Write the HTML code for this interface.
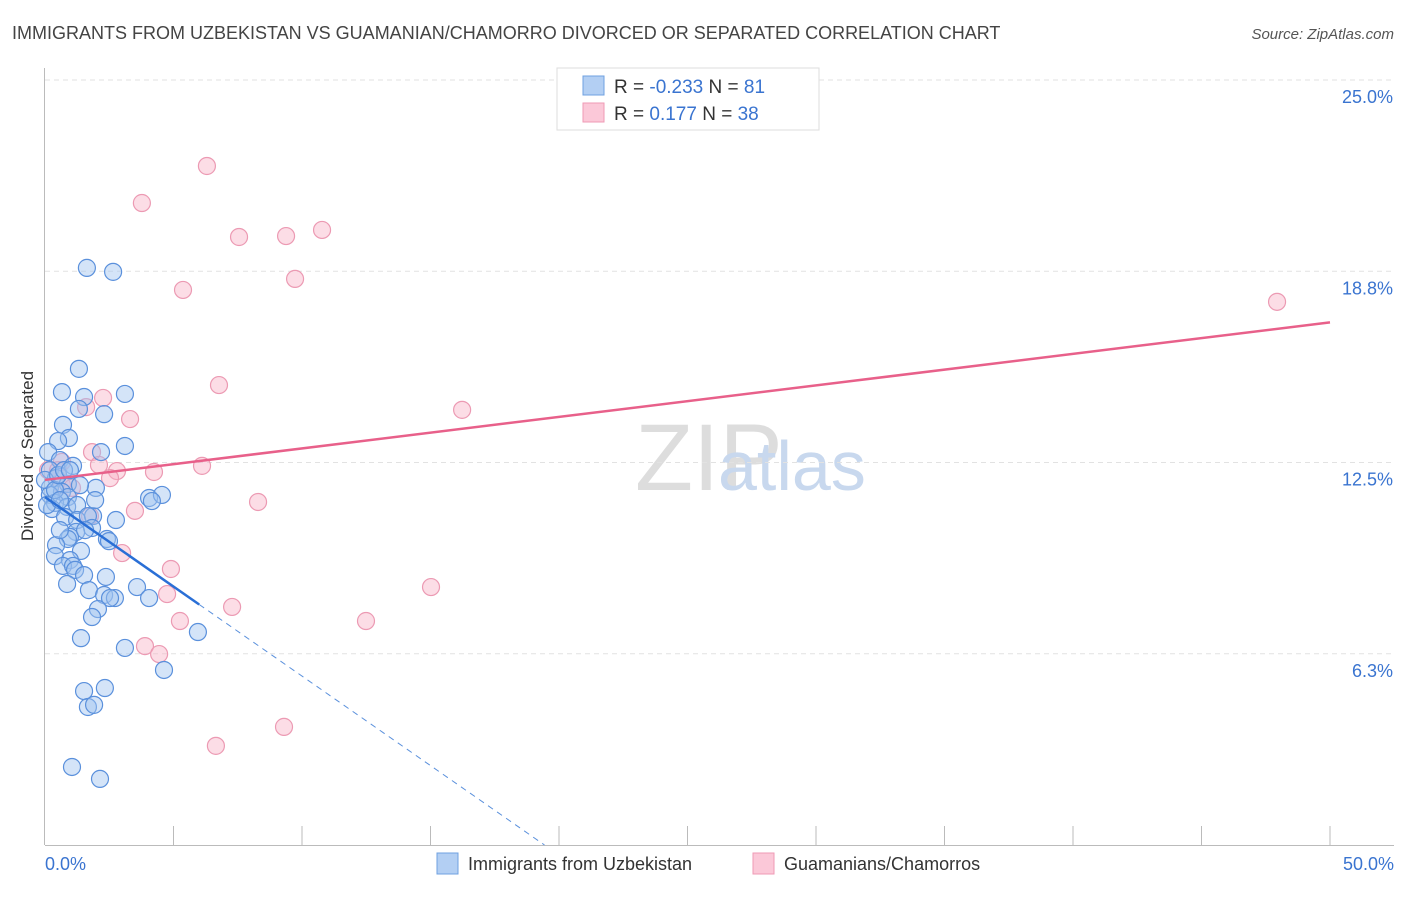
<!DOCTYPE html>
<html><head><meta charset="utf-8"><style>
body{margin:0;background:#fff;font-family:"Liberation Sans",sans-serif;}
svg text{font-family:"Liberation Sans",sans-serif;}
</style></head><body>
<svg id="c" width="1406" height="892">
<text x="12" y="39" font-size="18" fill="#444">IMMIGRANTS FROM UZBEKISTAN VS GUAMANIAN/CHAMORRO DIVORCED OR SEPARATED CORRELATION CHART</text>
<text x="1394" y="39" font-size="15" fill="#555" text-anchor="end" font-style="italic">Source: ZipAtlas.com</text>
<text x="33" y="456" font-size="17" fill="#333" text-anchor="middle" transform="rotate(-90 33 456)">Divorced or Separated</text>
<text x="635" y="490" font-size="95" fill="#ddd" font-family="Liberation Serif">ZIP</text>
<text x="718" y="490" font-size="70" fill="#c8d8ee">atlas</text>
<g id="grid"></g><g id="pts"></g><g id="lines"></g>
<g>
<rect x="557" y="68" width="262" height="62" fill="#fff" stroke="#ddd"/>
<rect x="583" y="76" width="21" height="19" fill="#b3cff3" stroke="#6fa0e0"/>
<rect x="583" y="103" width="21" height="19" fill="#fbc8d8" stroke="#ef9ab5"/>
<text x="614" y="93" font-size="19" fill="#333">R = <tspan fill="#3a74d0">-0.233</tspan>   N = <tspan fill="#3a74d0"> 81</tspan></text>
<text x="614" y="120" font-size="19" fill="#333">R =    <tspan fill="#3a74d0">0.177</tspan>   N = <tspan fill="#3a74d0">38</tspan></text>
</g>
<g>
<rect x="437" y="853" width="21" height="21" fill="#b3cff3" stroke="#6fa0e0"/>
<text x="468" y="870" font-size="18" fill="#333">Immigrants from Uzbekistan</text>
<rect x="753" y="853" width="21" height="21" fill="#fbc8d8" stroke="#ef9ab5"/>
<text x="784" y="870" font-size="18" fill="#333">Guamanians/Chamorros</text>
</g>
</svg>
<script>
const yTicks=[6.25,12.5,18.75,25];
const yTickLabels=["6.3%","12.5%","18.8%","25.0%"];
const xTickLabels=["0.0%","50.0%"];
const bluePx=[[87,268],[113,272],[79,369],[62,392],[84,397],[125,394],[79,409],[104,414],[63,425],[69,438],[58,441],[125,446],[101,452],[48,452],[60,460],[73,466],[50,470],[56,478],[96,488],[68,484],[50,488],[62,492],[50,495],[149,498],[162,495],[152,501],[68,497],[55,503],[67,507],[77,505],[52,509],[65,517],[77,520],[93,516],[88,516],[116,520],[92,528],[76,532],[70,537],[68,539],[107,539],[109,541],[56,545],[81,551],[55,556],[70,560],[63,566],[73,566],[75,570],[84,575],[106,577],[67,584],[89,590],[137,587],[104,595],[115,598],[110,598],[149,598],[98,609],[92,617],[81,638],[198,632],[125,648],[164,670],[84,691],[105,688],[88,707],[94,705],[72,767],[100,779],[45,480],[47,505],[55,490],[58,475],[60,500],[64,470],[80,485],[95,500],[70,470],[85,530],[60,530]];
const pinkPx=[[207,166],[142,203],[239,237],[286,236],[322,230],[183,290],[295,279],[1277,302],[219,385],[103,398],[86,407],[130,419],[462,410],[92,452],[62,462],[99,465],[117,471],[154,472],[202,466],[110,478],[48,470],[58,470],[62,485],[72,488],[258,502],[135,511],[90,516],[122,553],[171,569],[431,587],[167,594],[232,607],[180,621],[366,621],[145,646],[159,654],[284,727],[216,746]];
// data values (x %, y %)
const blueX=bluePx.map(p=>+((p[0]-45)/25.7).toFixed(2));
const blueY=bluePx.map(p=>+((845-p[1])/30.6).toFixed(2));
const pinkX=pinkPx.map(p=>+((p[0]-45)/25.7).toFixed(2));
const pinkY=pinkPx.map(p=>+((845-p[1])/30.6).toFixed(2));
const blueTrend=[11.37,-0.585];
const pinkTrend=[11.93,0.103];
const X=v=>45+v*25.7, Y=v=>845-v*30.6;
const NS="http://www.w3.org/2000/svg";
function mk(t,a,p){const e=document.createElementNS(NS,t);for(const k in a)e.setAttribute(k,a[k]);p.appendChild(e);return e;}
const g=document.getElementById('grid');
yTicks.forEach((t,i)=>{
 const l=mk('line',{x1:45,x2:1394,y1:Y(t),y2:Y(t),stroke:'#e2e2e2','stroke-dasharray':'5,4'},g);
 
 
 const tx=mk('text',{x:1393,y:Y(t)+23,'font-size':18,fill:'#3a74d0','text-anchor':'end'},g);
 tx.textContent=yTickLabels[i];
 
 
});
const ax=mk('line',{x1:44.5,x2:44.5,y1:68,y2:845,stroke:'#bbb'},g);


const bx=mk('line',{x1:45,x2:1394,y1:845.5,y2:845.5,stroke:'#bbb'},g);


for(let i=1;i<=10;i++){const t=mk('line',{x1:X(i*5),x2:X(i*5),y1:826,y2:845,stroke:'#bbb'},g);
 
 }
[[0,'start',45],[50,'end',1394]].forEach((d,i)=>{const t=mk('text',{x:d[2],y:870,'font-size':18,fill:'#3a74d0','text-anchor':d[1]},g);t.textContent=xTickLabels[i];
 
 });
const pg=document.getElementById('pts');
pinkX.forEach((x,i)=>{const c=mk('circle',{cx:X(x),cy:Y(pinkY[i]),r:8.5,fill:'rgba(248,180,200,0.45)',stroke:'#ec9ab3','stroke-width':1.2},pg);
 
 });
blueX.forEach((x,i)=>{const c=mk('circle',{cx:X(x),cy:Y(blueY[i]),r:8.5,fill:'rgba(160,195,240,0.45)',stroke:'#5a90dc','stroke-width':1.2},pg);
 
 });
const lg=document.getElementById('lines');
const f=(t,x)=>t[0]+t[1]*x;
let l1=mk('line',{x1:X(0),y1:Y(f(pinkTrend,0)),x2:X(50),y2:Y(f(pinkTrend,50)),stroke:'#e8608a','stroke-width':2.5},lg);


let l2=mk('line',{x1:X(0),y1:Y(f(blueTrend,0)),x2:X(6),y2:Y(f(blueTrend,6)),stroke:'#2a6fd6','stroke-width':2.5},lg);


const xe=-blueTrend[0]/blueTrend[1];
let l3=mk('line',{x1:X(6),y1:Y(f(blueTrend,6)),x2:X(xe),y2:Y(0),stroke:'#5a90dc','stroke-width':1,'stroke-dasharray':'6,5'},lg);


</script>
</body></html>
